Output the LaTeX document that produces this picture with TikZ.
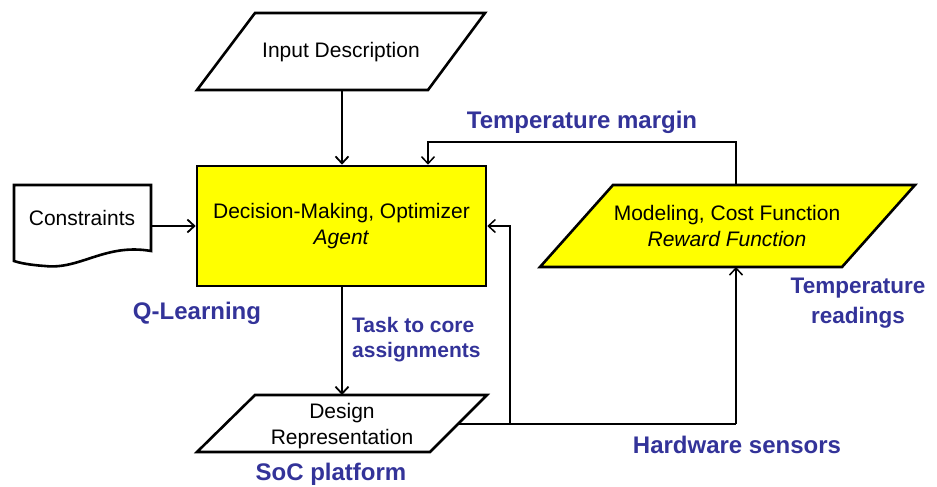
\documentclass[tikz,border=0pt]{standalone}
\usepackage{fontspec}
\setmainfont{Liberation Sans}
\usetikzlibrary{arrows.meta}
\definecolor{lblblue}{RGB}{51,51,153}
\definecolor{boxyellow}{RGB}{255,255,0}
\tikzset{
  outline/.style={draw=black, line width=2.6pt, line join=miter},
  yfill/.style={fill=boxyellow},
  txt/.style={font=\fontsize{21}{26}\selectfont, align=center, inner sep=0pt},
  lbl/.style={font=\fontsize{24}{29}\selectfont\bfseries, text=lblblue, align=center, inner sep=0pt},
  arr/.style={draw=black, line width=1.8pt, -{Straight Barb[length=7pt,width=13pt,line width=1.8pt]}},
  fb/.style={draw=black, line width=1.5pt},
  fbarr/.style={fb, -{Straight Barb[length=7pt,width=13pt,line width=1.5pt]}}
}
\begin{document}
\begin{tikzpicture}[x=1pt,y=-1pt]
\useasboundingbox (0,0) rectangle (937,487);
% Input Description
\draw[outline, fill=white] (255,13) -- (485,13) -- (428,90) -- (197,90) -- cycle;
\node[txt] (input) at (341,52) {Input Description};
\coordinate (inputB) at (342,90);
% Decision-making box
\node[outline, yfill, minimum width=289pt, minimum height=120pt, txt, inner sep=0pt] (dm) at (341.5,226) {Decision-Making, Optimizer\\\textit{Agent}};
% Constraints document
\draw[outline, fill=white] (14,185) -- (151,185) -- (151,251) .. controls (105,243) and (80,270) .. (45,266) .. controls (30,265) and (20,263) .. (14,261) -- cycle;
\node[txt] (cons) at (82,218) {Constraints};
\coordinate (consE) at (151,226);
% Modeling parallelogram
\draw[outline, yfill] (613,185) -- (915,185) -- (842,267) -- (540,267) -- cycle;
\node[txt] (model) at (727,226) {Modeling, Cost Function\\\textit{Reward Function}};
\coordinate (modT) at (736,185);
\coordinate (modB) at (736,267);
% Design representation
\draw[outline, fill=white] (255,395) -- (487,395) -- (430,452) -- (197,452) -- cycle;
\node[txt] (design) at (342,426) {Design\\Representation};
\coordinate (desT) at (342,395);
\coordinate (desR) at (458,424);
% helper coordinates
\coordinate (tm) at (428,142);
\coordinate (junc) at (510,424);
\coordinate (hw) at (736,424);
% connectors
\draw[arr] (inputB) -- (dm.north -| inputB);
\draw[arr] (consE) -- (dm.west);
\draw[arr] (dm.south -| desT) -- (desT);
\draw[fbarr] (modT) |- (tm) -- (tm |- dm.north);
\draw[fb] (desR) -- (hw);
\draw[fbarr] (hw) -- (modB);
\draw[fbarr] (junc) |- (dm.east);
% labels
\node[lbl] (tmargin) at (582,122) {Temperature margin};
\node[lbl] (qlearn) at (197,313) {Q-Learning};
\node[lbl, align=left, anchor=west, font=\fontsize{21}{25}\selectfont\bfseries] (task) at (352,340) {Task to core\\assignments};
\node[lbl, font=\fontsize{22.5}{30}\selectfont\bfseries] (treadings) at (858,303) {Temperature\\readings};
\node[lbl] (hwsens) at (737,445) {Hardware sensors};
\node[lbl] (soc) at (331,474) {SoC platform};
\end{tikzpicture}
\end{document}
